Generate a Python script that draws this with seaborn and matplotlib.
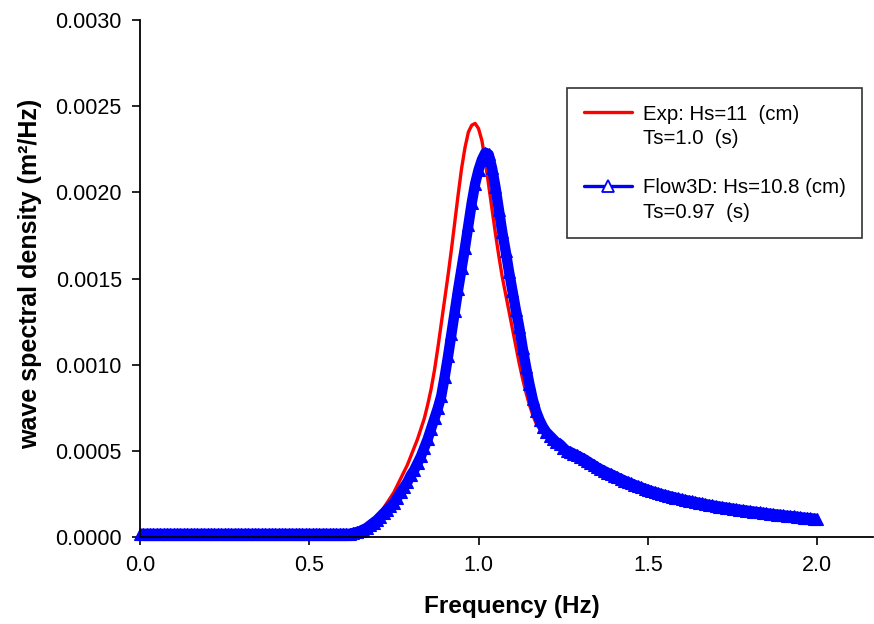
import numpy as np
import pandas as pd
import matplotlib
matplotlib.use("Agg")
import matplotlib.pyplot as plt
from matplotlib.lines import Line2D
import seaborn as sns

# frequency grid (Hz), 0.00 .. 2.00 in steps of 0.01
freq = np.round(np.arange(0, 201) * 0.01, 2)

# 0.00 - 0.59 Hz: flat part
exp_flat = [0.0] * 60
flow_flat = [0.00002] * 60

# 0.60 - 1.19 Hz: peak region
exp_peak = [
    0.0, 0.000002, 0.000004, 0.000007, 0.000012, 0.00002, 0.00003, 0.000045, 0.00006, 0.00009,
    0.00012, 0.00014, 0.00017, 0.0002, 0.00023, 0.00026, 0.0003, 0.00034, 0.00038, 0.00042,
    0.00047, 0.00052, 0.00057, 0.00063, 0.00069, 0.00077, 0.00086, 0.00097, 0.0011, 0.00124,
    0.00138, 0.00152, 0.00167, 0.00183, 0.00199, 0.00214, 0.00226, 0.00235, 0.00239, 0.0024,
    0.00237, 0.0023, 0.00218, 0.00204, 0.0019, 0.00176, 0.00163, 0.00151, 0.00141, 0.00131,
    0.00121, 0.00111, 0.00101, 0.00092, 0.00084, 0.00077, 0.00071, 0.00066, 0.00063, 0.00061,
]
flow_peak = [
    0.00002, 0.00002, 0.00002, 0.000025, 0.00003, 0.000035, 0.000045, 0.000055, 0.00007, 0.000085,
    0.0001, 0.00012, 0.00014, 0.00016, 0.00018, 0.0002, 0.00023, 0.00026, 0.00029, 0.00032,
    0.00036, 0.00039, 0.00043, 0.00047, 0.00052, 0.00057, 0.00063, 0.00069, 0.00075, 0.00082,
    0.00093, 0.00105, 0.00118, 0.00131, 0.00144, 0.00156, 0.00168, 0.00181, 0.00194, 0.00205,
    0.00213, 0.00219, 0.00223, 0.00222, 0.00214, 0.00203, 0.0019, 0.00177, 0.00166, 0.00154,
    0.00143, 0.00132, 0.00122, 0.0011, 0.00099, 0.00089, 0.0008, 0.00073, 0.00068, 0.00064,
]

# 1.20 - 2.00 Hz: tail (both curves overlap here)
tail = [
    0.00061, 0.00059, 0.00057, 0.00055, 0.00054, 0.00052, 0.0005, 0.000495, 0.000485, 0.000475,
    0.000465, 0.000455, 0.000443, 0.00043, 0.000418, 0.000405, 0.000395, 0.000385, 0.000375, 0.000366,
    0.000357, 0.000347, 0.000338, 0.000329, 0.00032, 0.000312, 0.000304, 0.000296, 0.000289, 0.000282,
    0.000275, 0.000268, 0.000262, 0.000256, 0.00025, 0.000245, 0.00024, 0.000235, 0.00023, 0.000225,
    0.00022, 0.000216, 0.000212, 0.000208, 0.000204, 0.0002, 0.000196, 0.000192, 0.000188, 0.000185,
    0.000181, 0.000178, 0.000175, 0.000172, 0.000169, 0.000166, 0.000163, 0.00016, 0.000157, 0.000155,
    0.000152, 0.000149, 0.000147, 0.000144, 0.000142, 0.000139, 0.000137, 0.000134, 0.000132, 0.00013,
    0.000127, 0.000125, 0.000123, 0.000121, 0.000119, 0.000116, 0.000114, 0.000112, 0.00011, 0.000108,
    0.000106,
]

legend_lines = ["Exp: Hs=11  (cm)", "Ts=1.0  (s)", "", "Flow3D: Hs=10.8 (cm)", "Ts=0.97  (s)"]

df_exp = pd.DataFrame({"f": freq, "S": exp_flat + exp_peak + tail})
df_flow = pd.DataFrame({"f": freq, "S": flow_flat + flow_peak + tail})

sns.set_style("ticks")
plt.rcParams["font.family"] = ["Liberation Sans", "DejaVu Sans"]
plt.rcParams["text.color"] = "black"
plt.rcParams["axes.labelcolor"] = "black"
plt.rcParams["xtick.color"] = "black"
plt.rcParams["ytick.color"] = "black"

fig, ax = plt.subplots(figsize=(8.74, 6.24), dpi=100)
fig.subplots_adjust(left=0.160, right=0.999, bottom=0.139, top=0.968)

sns.lineplot(data=df_exp, x="f", y="S", ax=ax, color="#ff0000", linewidth=2.4,
             estimator=None, sort=False)
# dense open-triangle markers in the original merge into a thick band
sns.lineplot(data=df_flow, x="f", y="S", ax=ax, color="#0000ff", linewidth=7.5,
             marker="^", markersize=8.5, markerfacecolor="#0000ff", markeredgecolor="#0000ff",
             markeredgewidth=0.8, estimator=None, sort=False, clip_on=False,
             solid_capstyle="butt")

ax.set_xlim(0, 2.165)
ax.set_ylim(0, 0.003)
ax.set_xticks([0, 0.5, 1.0, 1.5, 2.0])
ax.set_xticklabels(["0.0", "0.5", "1.0", "1.5", "2.0"])
ax.set_yticks([0, 0.0005, 0.001, 0.0015, 0.002, 0.0025, 0.003])
ax.set_yticklabels(["0.0000", "0.0005", "0.0010", "0.0015", "0.0020", "0.0025", "0.0030"])
ax.tick_params(labelsize=15.5, length=6, width=1.2, color="black", labelcolor="black",
               direction="out", pad=7)
for s in ["top", "right"]:
    ax.spines[s].set_visible(False)
for s in ["left", "bottom"]:
    ax.spines[s].set_linewidth(1.3)
    ax.spines[s].set_color("black")

ax.set_xlabel("Frequency (Hz)", fontsize=17.5, fontweight="bold", color="black")
ax.xaxis.set_label_coords(0.508, -0.112)
ax.set_ylabel("wave spectral density (m\u00b2/Hz)", fontsize=18, fontweight="bold", color="black")
ax.yaxis.set_label_coords(-0.133, 0.51)

blank = Line2D([], [], linestyle="none")
handles = [
    Line2D([], [], color="#ff0000", linewidth=2.4),
    blank, blank,
    Line2D([], [], color="#0000ff", linewidth=2.4, marker="^", markersize=8,
           markerfacecolor="white", markeredgecolor="#0000ff", markeredgewidth=1.3),
    blank,
]
leg = ax.legend(handles, legend_lines, loc="upper right", bbox_to_anchor=(0.985, 0.868),
                borderaxespad=0, fontsize=14.7, frameon=True, fancybox=False,
                edgecolor="black", handlelength=2.35, handletextpad=0.55,
                labelspacing=0.27, borderpad=0.8)
leg.get_frame().set_linewidth(1.2)

plt.savefig("out.png", dpi=100)
